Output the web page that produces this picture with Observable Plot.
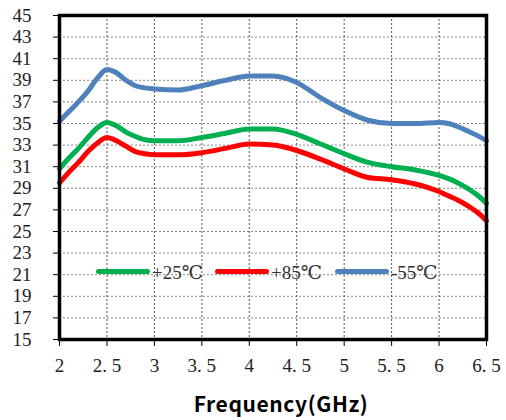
<!DOCTYPE html>
<html>
<head>
<meta charset="utf-8">
<script src="https://cdn.jsdelivr.net/npm/d3@7"></script>
<script src="https://cdn.jsdelivr.net/npm/@observablehq/plot@0.6"></script>
<style>
  html, body { margin: 0; padding: 0; background: #fff; }
  #wrap { position: relative; width: 506px; height: 420px; }
  #legend { position: absolute; left: 0; top: 0; width: 506px; height: 420px; pointer-events: none;
    font-family: "Times New Roman", "Liberation Serif", "DejaVu Serif", serif; font-size: 19px; color: #333; }
  .sw { position: absolute; height: 5px; border-radius: 3px; }
  .lb { position: absolute; line-height: 20px; }
</style>
</head>
<body>
<div id="wrap"><div id="legend"></div></div>
<script>
// Frequency (GHz)
const freq = [2, 2.1, 2.2, 2.3, 2.4, 2.5, 2.6, 2.7, 2.8, 2.9, 3, 3.25, 3.5, 3.75, 4, 4.25, 4.5, 4.75, 5, 5.25, 5.5, 5.75, 6, 6.1, 6.2, 6.3, 6.4, 6.5];
// Series values
const p25 = [30.8, 31.8, 32.7, 33.7, 34.6, 35.1, 34.8, 34.2, 33.8, 33.5, 33.4, 33.4, 33.7, 34.1, 34.5, 34.5, 34.0, 33.1, 32.2, 31.4, 31.0, 30.7, 30.2, 29.9, 29.5, 29.0, 28.4, 27.6];
const p85 = [29.5, 30.5, 31.4, 32.4, 33.2, 33.7, 33.4, 32.9, 32.4, 32.2, 32.1, 32.1, 32.3, 32.7, 33.1, 33.0, 32.5, 31.7, 30.8, 30.0, 29.8, 29.4, 28.7, 28.3, 27.9, 27.4, 26.8, 26.0];
const m55 = [35.2, 36.1, 37.0, 38.0, 39.2, 40.0, 39.7, 39.0, 38.5, 38.3, 38.2, 38.1, 38.5, 39.0, 39.4, 39.4, 38.8, 37.4, 36.2, 35.3, 35.0, 35.0, 35.1, 35.0, 34.7, 34.3, 33.9, 33.4];
const seriesNames = ["+25℃", "+85℃", "-55℃"];
const seriesColors = ["#00B050", "#FF0000", "#4F81BD"];
const xTicks = [2, 2.5, 3, 3.5, 4, 4.5, 5, 5.5, 6, 6.5];
const xTickLabels = ["2", "2. 5", "3", "3. 5", "4", "4. 5", "5", "5. 5", "6", "6. 5"];
const yTicks = [15, 17, 19, 21, 23, 25, 27, 29, 31, 33, 35, 37, 39, 41, 43, 45];
const xTitle = "Frequency(GHz)";

const seriesVals = [p25, p85, m55];
const rows = [];
seriesVals.forEach((vals, si) => vals.forEach((v, i) => rows.push({f: freq[i], v, s: seriesNames[si]})));

const serif = "'Times New Roman', 'Liberation Serif', 'DejaVu Serif', serif";
const chart = Plot.plot({
  width: 506,
  height: 420,
  marginLeft: 59,
  marginRight: 20,
  marginTop: 15,
  marginBottom: 81,
  style: {fontFamily: serif, fontSize: "19px"},
  x: {domain: [2, 6.5], ticks: xTicks, tickFormat: d => xTickLabels[xTicks.indexOf(d)], tickSize: 7, tickPadding: 12, label: null, line: false},
  y: {domain: [15, 45], ticks: yTicks, tickSize: 6, tickPadding: 22, label: null},
  color: {domain: seriesNames, range: seriesColors},
  marks: [
    Plot.ruleY(yTicks.slice(1), {stroke: "#888", strokeDasharray: "2,2", strokeWidth: 1}),
    Plot.ruleX(xTicks.slice(1), {stroke: "#555", strokeDasharray: "2,2", strokeWidth: 1}),
    Plot.line(rows, {x: "f", y: "v", z: "s", stroke: "s", strokeWidth: 5, curve: "monotone-x"}),
    Plot.frame({stroke: "black", strokeWidth: 3.5}),
    Plot.text([xTitle], {frameAnchor: "bottom", dy: 72, dx: 8})
  ]
});
document.getElementById("wrap").prepend(chart);
chart.style.position = "absolute";
chart.style.left = "0"; chart.style.top = "0";
const allText = d3.select(chart).selectAll("text");
allText.filter(function() { return this.textContent !== xTitle; })
  .attr("font-family", serif).attr("font-size", 19)
  .style("font-family", serif).style("font-size", "19px").style("fill", "#222");
allText.filter(function() { return this.textContent === xTitle; })
  .style("font-family", "'Noto Sans CJK SC', 'DejaVu Sans', sans-serif")
  .style("font-weight", "bold").style("font-size", "21px").style("fill", "#000").style("letter-spacing", "0.6px");

// Legend overlay (inside plot area)
const legend = document.getElementById("legend");
const legendX = [96, 215, 335];
seriesNames.forEach((name, i) => {
  const sw = document.createElement("div");
  sw.className = "sw";
  sw.style.left = legendX[i] + "px";
  sw.style.top = "269px";
  sw.style.width = "54px";
  sw.style.background = seriesColors[i];
  legend.appendChild(sw);
  const lb = document.createElement("div");
  lb.className = "lb";
  lb.style.left = (legendX[i] + 56) + "px";
  lb.style.top = "263px";
  lb.textContent = name;
  legend.appendChild(lb);
});
</script>
</body>
</html>
